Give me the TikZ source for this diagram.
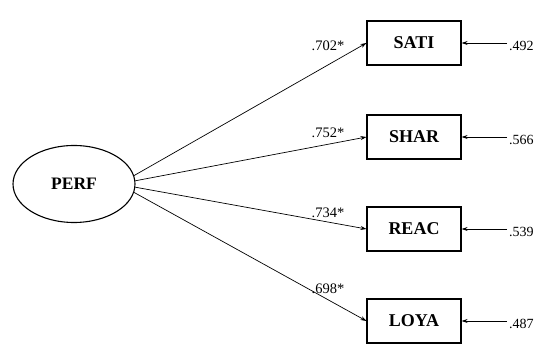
\documentclass[tikz,border=0pt]{standalone}
\usepackage{fontspec}
\setmainfont{Liberation Serif}
\usetikzlibrary{shapes.geometric,arrows.meta}
\begin{document}
\begin{tikzpicture}[x=1pt,y=-1pt,
  latent/.style={draw,line width=1.1pt,ellipse,minimum width=122pt,minimum height=77pt,font=\fontsize{17.5}{17.5}\selectfont\bfseries},
  observed/.style={draw,line width=1.1pt,rectangle,minimum width=94pt,minimum height=44pt,font=\fontsize{18}{18}\selectfont\bfseries},
  load/.style={-{Stealth[length=6pt,width=4pt]},line width=0.7pt},
  coef/.style={font=\fontsize{14.5}{14.5}\selectfont},
  errval/.style={font=\fontsize{14}{14}\selectfont,anchor=west,inner sep=2pt}]
\useasboundingbox (0,0) rectangle (538,344);
\node[latent] (perf) at (74,184) {PERF};
\node[observed] (sati) at (414,43) {SATI};
\node[observed] (shar) at (414,137) {SHAR};
\node[observed] (reac) at (414,229) {REAC};
\node[observed] (loya) at (414,321) {LOYA};
\draw[load] (perf.8) -- (sati.west);
\draw[load] (perf.3) -- (shar.west);
\draw[load] (perf.-3) -- (reac.west);
\draw[load] (perf.-8) -- (loya.west);
\node[coef] (c1) at (328,46) {.702*};
\node[coef] (c2) at (328,133) {.752*};
\node[coef] (c3) at (328,213) {.734*};
\node[coef] (c4) at (328,289) {.698*};
\node[errval] (e1) at (507,46) {.492};
\node[errval] (e2) at (507,140) {.566};
\node[errval] (e3) at (507,232) {.539};
\node[errval] (e4) at (507,324) {.487};
\foreach \e/\n in {e1/sati,e2/shar,e3/reac,e4/loya}
  \draw[load] (\e.west |- \n.east) -- (\n.east);
\end{tikzpicture}
\end{document}
